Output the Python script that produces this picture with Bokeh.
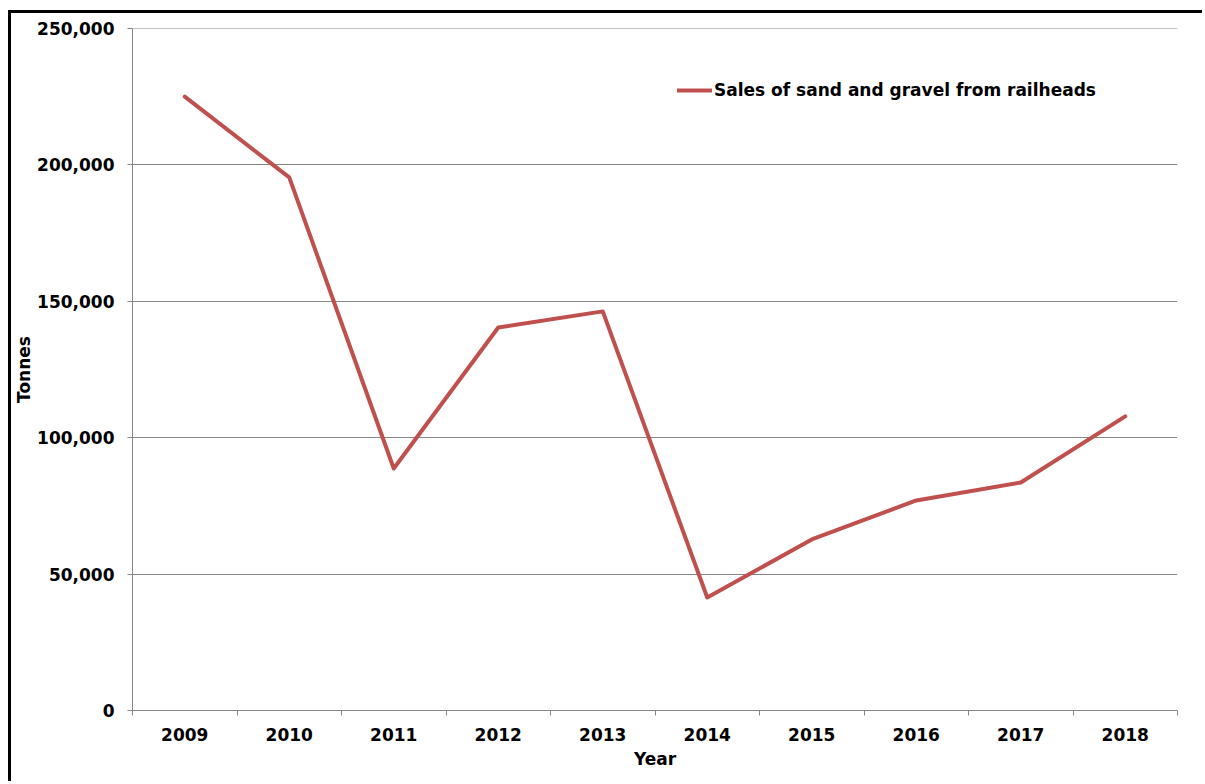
from bokeh.plotting import figure
from bokeh.models import FixedTicker, NumeralTickFormatter, Legend, LegendItem, Range1d, Span
from bokeh.embed import file_html
from bokeh.resources import INLINE

years = ["2009", "2010", "2011", "2012", "2013", "2014", "2015", "2016", "2017", "2018"]
sales = [225000, 195400, 88700, 140400, 146300, 41400, 62700, 77000, 83600, 107800]
series_name = "Sales of sand and gravel from railheads"
y_ticks = [0, 50000, 100000, 150000, 200000, 250000]

xs = [i + 0.5 for i in range(len(years))]

FONT = "DejaVu Sans"
GRAY = "#868686"
RED = "#C0504D"

p = figure(width=1194, height=771, output_backend="svg", toolbar_location=None,
           x_range=Range1d(0, len(years)), y_range=Range1d(0, max(y_ticks)),
           min_border_left=120, min_border_right=28, min_border_top=15, min_border_bottom=74)
p.styles = {"border-top": "3px solid black", "border-left": "3px solid black",
            "margin-top": "10px", "margin-left": "8px"}
p.outline_line_color = None
p.background_fill_color = "white"
p.border_fill_color = "white"

r = p.line(xs, sales, line_color=RED, line_width=4, line_join="round", line_cap="round")

# x axis
p.xaxis.ticker = FixedTicker(ticks=xs, minor_ticks=list(range(len(years) + 1)))
p.xaxis.major_label_overrides = {x: y for x, y in zip(xs, years)}
p.xaxis.major_tick_line_color = None
p.xaxis.minor_tick_line_color = GRAY
p.xaxis.minor_tick_out = 5
p.xaxis.minor_tick_in = 0
p.xaxis.axis_line_color = GRAY
p.xaxis.major_label_standoff = 11
p.xaxis.axis_label = "Year"
p.xaxis.axis_label_standoff = 5
p.xgrid.grid_line_color = None

# y axis
p.yaxis.ticker = FixedTicker(ticks=y_ticks, minor_ticks=[])
p.yaxis.formatter = NumeralTickFormatter(format="0,0")
p.yaxis.major_tick_line_color = GRAY
p.yaxis.major_tick_out = 5
p.yaxis.major_tick_in = 0
p.yaxis.axis_line_color = GRAY
p.yaxis.major_label_standoff = 13
p.yaxis.axis_label = "Tonnes"
p.yaxis.axis_label_standoff = 0
p.ygrid.grid_line_color = GRAY
p.ygrid.grid_line_width = 1
p.add_layout(Span(location=max(y_ticks), dimension="width", line_color=GRAY, line_width=1))

for ax in (p.xaxis, p.yaxis):
    ax.major_label_text_font = FONT
    ax.major_label_text_font_style = "bold"
    ax.major_label_text_font_size = "17px"
    ax.major_label_text_color = "black"
    ax.axis_label_text_font = FONT
    ax.axis_label_text_font_style = "bold"
    ax.axis_label_text_font_size = "17px"
    ax.axis_label_text_color = "black"

leg = Legend(items=[LegendItem(label=series_name, renderers=[r])],
             location=(545, 610), padding=0, margin=0, spacing=0,
             border_line_color=None, background_fill_alpha=0,
             glyph_width=35, glyph_height=20, label_standoff=2,
             label_text_font=FONT, label_text_font_style="bold",
             label_text_font_size="17px", label_text_color="black")
p.add_layout(leg)

open("out.html", "w").write(file_html(p, INLINE))
